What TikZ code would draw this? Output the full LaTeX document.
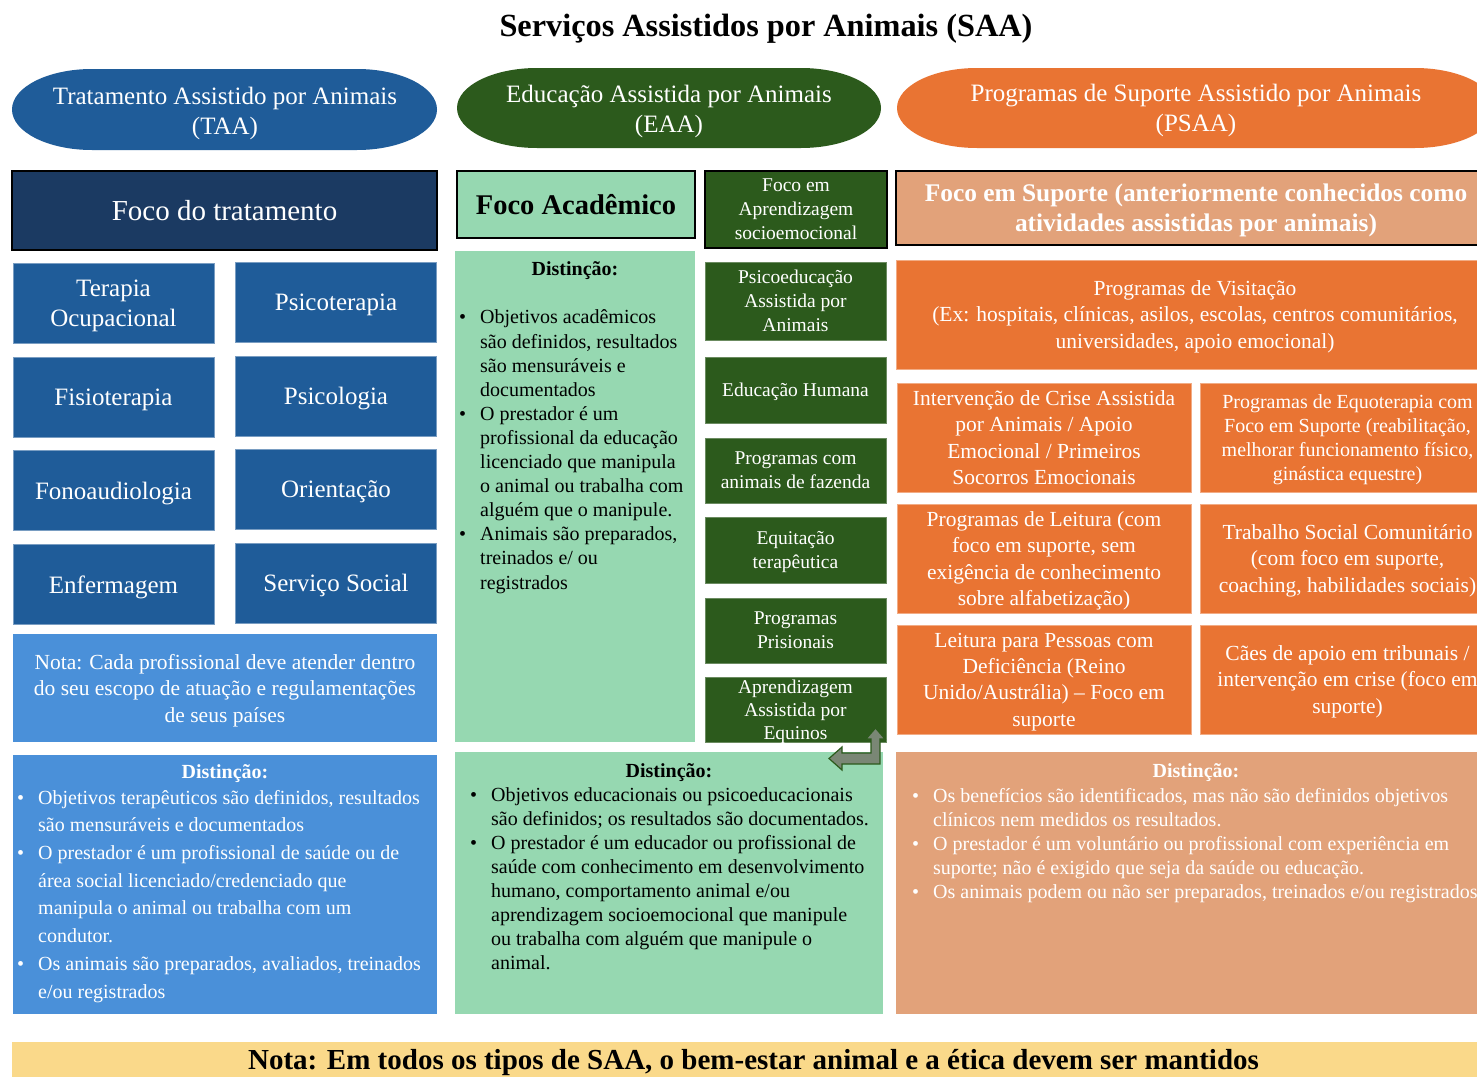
\documentclass[tikz,border=0pt]{standalone}
\usepackage{fontspec}
\setmainfont{Liberation Serif}
\definecolor{taablue}{HTML}{1F5C99}
\definecolor{taanavy}{HTML}{1B3A62}
\definecolor{taalight}{HTML}{4A90D9}
\definecolor{eaadark}{HTML}{2C5A1C}
\definecolor{eaalight}{HTML}{96D8B1}
\definecolor{psaaorange}{HTML}{E97433}
\definecolor{psaasalmon}{HTML}{E2A27A}
\definecolor{notayellow}{HTML}{FAD98A}
\newcommand\fsz[2]{\fontsize{#1}{#2}\selectfont}
\newcommand\bulmark{\makebox[21pt][l]{\textbullet}}
\newcommand\bulind{\hspace*{21pt}}

\begin{document}
\begin{tikzpicture}
      [x=1pt, y=-1pt, every node/.append style={text depth=0pt},
      tile/.style={rectangle, fill=taablue, draw=taablue!60!white, line width=0.8pt,
        text=white, inner sep=0pt, align=center, minimum width=201pt,
        minimum height=80pt, font=\fsz{25}{30}},
      header/.style={rectangle, draw=black, line width=2.5pt, inner sep=0pt, align=center},
      gbox/.style={rectangle, fill=eaadark, draw=eaadark!70!white, line width=0.6pt,
        text=white, minimum width=181pt, inner sep=0pt, align=center, font=\fsz{19.5}{24}},
      obox/.style={rectangle, fill=psaaorange, draw=psaaorange!60!white, line width=0.6pt,
        text=white, minimum height=109pt, inner sep=0pt, align=center, font=\fsz{21.5}{26.3}},
      panel/.style={rectangle, inner sep=0pt},
      distitle/.style={font=\bfseries\fsz{20}{24}, inner sep=0pt},
      bullets/.style={anchor=west, align=left, inner sep=0pt}]
      \useasboundingbox (0,0) rectangle (1477,1076);
      \fill[white] (0,0) rectangle (1477,1076);

      % title
      \node[font=\bfseries\fsz{32.3}{38}] (title) at (766,25) {Serviços Assistidos por Animais (SAA)};

      % the three services
      \fill[taablue] (92,69) -- (357,69) arc[start angle=-90, end angle=90, x radius=80, y radius=40.5]
        -- (92,150) arc[start angle=90, end angle=270, x radius=80, y radius=40.5] -- cycle;
      \fill[eaadark] (537,68) -- (801,68) arc[start angle=-90, end angle=90, x radius=80, y radius=40]
        -- (537,148) arc[start angle=90, end angle=270, x radius=80, y radius=40] -- cycle;
      \fill[psaaorange] (977,68) -- (1415,68) arc[start angle=-90, end angle=90, x radius=80, y radius=40]
        -- (977,148) arc[start angle=90, end angle=270, x radius=80, y radius=40] -- cycle;
      \node[text=white, font=\fsz{25}{30}, align=center] (taa) at (225,111)
        {Tratamento Assistido por Animais\\(TAA)};
      \node[text=white, font=\fsz{25}{30}, align=center] (eaa) at (669,109)
        {Educação Assistida por Animais\\(EAA)};
      \node[text=white, font=\fsz{25}{30}, align=center] (psaa) at (1196,108)
        {Programas de Suporte Assistido por Animais\\(PSAA)};

      % focus headers
      \node[header, fill=taanavy, text=white, minimum width=425pt, minimum height=79pt,
        font=\fsz{29}{34}] (treat) at (224.5,210.5) {Foco do tratamento};
      \node[header, fill=eaalight, minimum width=238pt, minimum height=67pt,
        font=\bfseries\fsz{28.5}{33}] (acad) at (576,204.5) {Foco Acadêmico};
      \node[header, fill=eaadark, text=white, minimum width=182pt, minimum height=77pt,
        font=\fsz{19.5}{24}] (socio) at (796,209.5) {Foco em\\Aprendizagem\\socioemocional};
      \node[header, fill=psaasalmon, text=white, minimum width=600pt, minimum height=74pt,
        font=\bfseries\fsz{25.4}{30}] (suporte) at (1196,208)
        {Foco em Suporte (anteriormente conhecidos como\\atividades assistidas por animais)};

      % TAA
      \node[tile] (terapia) at (113.5,303.5) {Terapia\\Ocupacional};
      \node[tile] (psicot) at (336,302.5) {Psicoterapia};
      \node[tile] (fisio) at (113.5,397) {Fisioterapia};
      \node[tile] (psicol) at (336,396) {Psicologia};
      \node[tile] (fono) at (113.5,490.5) {Fonoaudiologia};
      \node[tile] (orient) at (336,489.5) {Orientação};
      \node[tile] (enferm) at (113.5,584.5) {Enfermagem};
      \node[tile] (servico) at (336,583) {Serviço Social};
      \node[panel, fill=taalight, minimum width=424pt, minimum height=108pt, text=white,
        align=center, font=\fsz{21.5}{26.5}] (nota) at (225,688)
        {Nota: Cada profissional deve atender dentro\\do seu escopo de atuação e regulamentações\\de seus países};
      \node[panel, fill=taalight, minimum width=424pt, minimum height=259pt] (ldist) at (225,884.5) {};
      \node[distitle, text=white] (ldisttitle) at (225,772) {Distinção:};
      \node[bullets, text=white, font=\fsz{20}{27.7}] (ldistlist) at (17,894)
        {\bulmark Objetivos terapêuticos são definidos, resultados\\
         \bulind são mensuráveis e documentados\\
         \bulmark O prestador é um profissional de saúde ou de\\
         \bulind área social licenciado/credenciado que\\
         \bulind manipula o animal ou trabalha com um\\
         \bulind condutor.\\
         \bulmark Os animais são preparados, avaliados, treinados\\
         \bulind e/ou registrados};

      % EAA
      \node[panel, fill=eaalight, minimum width=240pt, minimum height=491pt] (mdist) at (575,496.5) {};
      \node[distitle] (mdisttitle) at (575,269) {Distinção:};
      \node[bullets, font=\fsz{20}{24.1}] (mdistlist) at (459,449.5)
        {\bulmark Objetivos acadêmicos\\
         \bulind são definidos, resultados\\
         \bulind são mensuráveis e\\
         \bulind documentados\\
         \bulmark O prestador é um\\
         \bulind profissional da educação\\
         \bulind licenciado que manipula\\
         \bulind o animal ou trabalha com\\
         \bulind alguém que o manipule.\\
         \bulmark Animais são preparados,\\
         \bulind treinados e/ ou\\
         \bulind registrados};
      \node[gbox, minimum height=78pt] (psicoed) at (795.5,301) {Psicoeducação\\Assistida por\\Animais};
      \node[gbox, minimum height=66pt] (eduhum) at (795.5,390) {Educação Humana};
      \node[gbox, minimum height=65pt] (fazenda) at (795.5,470.5) {Programas com\\animais de fazenda};
      \node[gbox, minimum height=66pt] (equit) at (795.5,550) {Equitação\\terapêutica};
      \node[gbox, minimum height=65pt] (prision) at (795.5,630.5) {Programas\\Prisionais};
      \node[gbox, minimum height=65pt, font=\fsz{19.5}{23}] (equinos) at (795.5,709.5)
        {Aprendizagem\\Assistida por\\Equinos};
      \node[panel, fill=eaalight, minimum width=428pt, minimum height=262pt] (bdist) at (669,883) {};
      \filldraw[fill=eaadark!35!gray!85, draw=eaadark, line width=1.2pt]
        (875.5,728) -- (885,739) -- (880,739) -- (880,764) -- (842,764) -- (842,770)
        -- (829,758.5) -- (842,747) -- (842,753) -- (871,753) -- (871,739) -- (866,739) -- cycle;
      \node[distitle] (bdisttitle) at (669,771) {Distinção:};
      \node[bullets, font=\fsz{20}{24}] (bdistlist) at (470,879)
        {\bulmark Objetivos educacionais ou psicoeducacionais\\
         \bulind são definidos; os resultados são documentados.\\
         \bulmark O prestador é um educador ou profissional de\\
         \bulind saúde com conhecimento em desenvolvimento\\
         \bulind humano, comportamento animal e/ou\\
         \bulind aprendizagem socioemocional que manipule\\
         \bulind ou trabalha com alguém que manipule o\\
         \bulind animal.};

      % PSAA
      \node[obox, minimum width=598pt] (visit) at (1195,314.5)
        {Programas de Visitação\\(Ex: hospitais, clínicas, asilos, escolas, centros comunitários,\\universidades, apoio emocional)};
      \node[obox, minimum width=294pt] (crise) at (1044,437.5)
        {Intervenção de Crise Assistida\\por Animais / Apoio\\Emocional / Primeiros\\Socorros Emocionais};
      \node[obox, minimum width=295pt, font=\fsz{20}{24}] (equo) at (1347.5,437.5)
        {Programas de Equoterapia com\\Foco em Suporte (reabilitação,\\melhorar funcionamento físico,\\ginástica equestre)};
      \node[obox, minimum width=294pt] (leitura) at (1044,558.5)
        {Programas de Leitura (com\\foco em suporte, sem\\exigência de conhecimento\\sobre alfabetização)};
      \node[obox, minimum width=295pt] (social) at (1347.5,558.5)
        {Trabalho Social Comunitário\\(com foco em suporte,\\coaching, habilidades sociais)};
      \node[obox, minimum width=294pt] (defic) at (1044,679.5)
        {Leitura para Pessoas com\\Deficiência (Reino\\Unido/Austrália) – Foco em\\suporte};
      \node[obox, minimum width=295pt] (caes) at (1347.5,679.5)
        {Cães de apoio em tribunais /\\intervenção em crise (foco em\\suporte)};
      \node[panel, fill=psaasalmon, minimum width=599pt, minimum height=262pt] (rdist) at (1195.5,883) {};
      \node[distitle, text=white] (rdisttitle) at (1196,771) {Distinção:};
      \node[bullets, text=white, font=\fsz{20}{24}] (rdistlist) at (912,843)
        {\bulmark Os benefícios são identificados, mas não são definidos objetivos\\
         \bulind clínicos nem medidos os resultados.\\
         \bulmark O prestador é um voluntário ou profissional com experiência em\\
         \bulind suporte; não é exigido que seja da saúde ou educação.\\
         \bulmark Os animais podem ou não ser preparados, treinados e/ou registrados};

      % note for all
      \node[panel, fill=notayellow, minimum width=1483pt, minimum height=42pt] (bemestar) at (753.5,1063) {};
      \node[font=\bfseries\fsz{29}{34}, inner sep=0pt] (bemestartext) at (753.5,1059)
        {Nota: Em todos os tipos de SAA, o bem-estar animal e a ética devem ser mantidos};
    \end{tikzpicture}
\end{document}
